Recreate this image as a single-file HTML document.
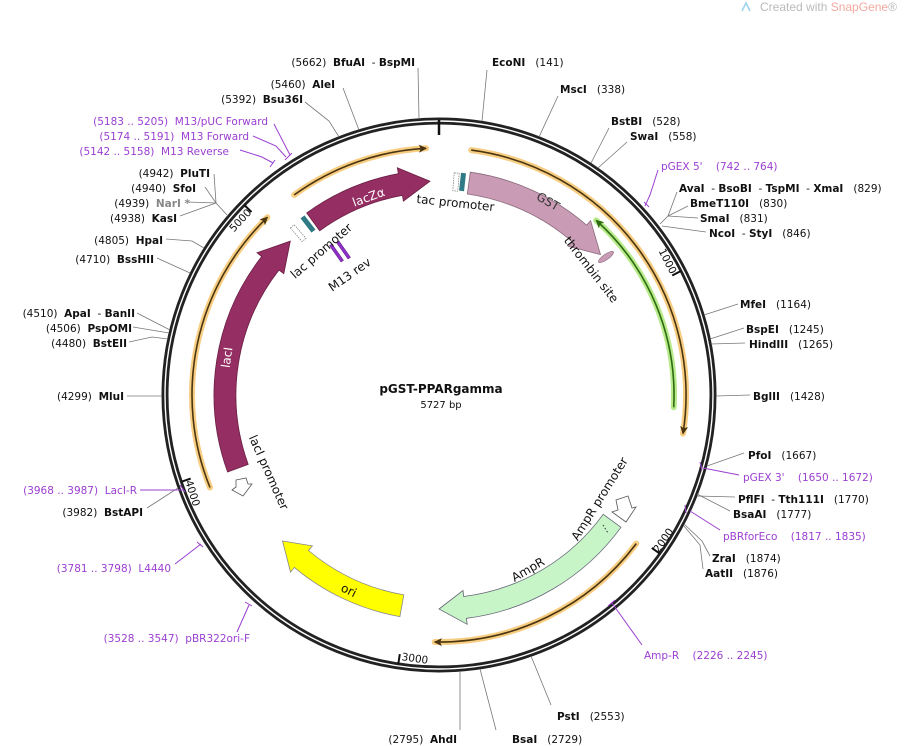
<!DOCTYPE html>
<html><head><meta charset="utf-8"><style>
html,body{margin:0;padding:0;background:#fff;}
svg{display:block;}
text{font-family:"DejaVu Sans","Liberation Sans",sans-serif;font-size:10.5px;fill:#111;white-space:pre;}
.b{font-weight:bold;}
.p{fill:#9b3fd0;}
.g{fill:#888;}
.ln{stroke:#777;stroke-width:0.8;fill:none;}
.pl{stroke:#9b3fd0;stroke-width:1;fill:none;}
</style></head><body>
<svg width="911" height="746" viewBox="0 0 911 746" xmlns="http://www.w3.org/2000/svg" xml:space="preserve">
<defs>
<marker id="ao" viewBox="0 0 10 10" refX="8" refY="5" markerWidth="9" markerHeight="9" orient="auto" markerUnits="userSpaceOnUse"><path d="M0,0.5 L9,5 L0,9.5 L2,5 Z" fill="#4a3510"/></marker>
<marker id="ag" viewBox="0 0 10 10" refX="8" refY="5" markerWidth="9" markerHeight="9" orient="auto" markerUnits="userSpaceOnUse"><path d="M0,0.5 L9,5 L0,9.5 L2,5 Z" fill="#2d6a10"/></marker>
</defs>

<path d="M742,11 L746,3 L750,11" fill="none" stroke="#9fd3ee" stroke-width="1.6"/>
<text x="760" y="11" style="font-size:12px;fill:#bbb;font-family:'Liberation Sans',sans-serif">Created with <tspan style="fill:#f2a9a0">SnapGene</tspan>®</text>

<circle cx="439" cy="395" r="274" fill="none" stroke="#222" stroke-width="7"/>
<circle cx="439" cy="395" r="274" fill="none" stroke="#fff" stroke-width="1.4"/>

<g stroke="#111" stroke-width="2">
<line x1="439" y1="120" x2="439" y2="135" stroke-width="2.5"/>
<line x1="681.1" y1="270.9" x2="672.2" y2="275.5"/>
<line x1="659.9" y1="553.7" x2="651.8" y2="547.9"/>
<line x1="398.3" y1="664" x2="399.8" y2="654.1"/>
<line x1="181.2" y1="481.8" x2="190.7" y2="478.6"/>
<line x1="244.3" y1="205" x2="251.5" y2="212"/>
</g>
<text transform="translate(668,261) rotate(63)" text-anchor="middle" dy="4">1000</text>
<text transform="translate(663,540) rotate(-55)" text-anchor="middle" dy="4">2000</text>
<text transform="translate(415,658) rotate(8)" text-anchor="middle" dy="4">3000</text>
<text transform="translate(193,493) rotate(72)" text-anchor="middle" dy="4">4000</text>
<text transform="translate(240,220) rotate(-47)" text-anchor="middle" dy="4">5000</text>

<g fill="none" stroke="#f6c46c" stroke-width="6" stroke-opacity="0.85" stroke-linecap="round">
<path d="M294.2,194.9 A247,247 0 0 1 426.1,148.3"/>
<path d="M471.2,150.1 A247,247 0 0 1 683,433.6"/>
<path d="M636.3,543.6 A247,247 0 0 1 434.7,642"/>
<path d="M210,487.5 A247,247 0 0 1 267.4,217.3"/>
</g>
<g fill="none" stroke="#4a3510" stroke-width="1.6">
<path d="M294.2,194.9 A247,247 0 0 1 426.1,148.3" marker-end="url(#ao)"/>
<path d="M471.2,150.1 A247,247 0 0 1 683,433.6" marker-end="url(#ao)"/>
<path d="M636.3,543.6 A247,247 0 0 1 434.7,642" marker-end="url(#ao)"/>
<path d="M210,487.5 A247,247 0 0 1 267.4,217.3" marker-end="url(#ao)"/>
</g>
<path d="M673.7,407.3 A235,235 0 0 0 596.2,220.4" fill="none" stroke="#b8ea8c" stroke-width="6" stroke-linecap="round"/>
<path d="M673.7,407.3 A235,235 0 0 0 596.2,220.4" fill="none" stroke="#2d6a10" stroke-width="1.6" marker-end="url(#ag)"/>

<path d="M227.6,472 A225,225 0 0 1 261.7,256.5 L257,252.8 L290.3,241.1 L283.8,273.7 L279,270 A203,203 0 0 0 248.2,464.4 Z" fill="#952e62" stroke="#6a1e44" stroke-width="0.8"/>
<path d="M306.7,213 A225,225 0 0 1 398.4,173.7 L397.3,167.8 L430,181.2 L403.4,201.2 L402.4,195.3 A203,203 0 0 0 319.7,230.8 Z" fill="#952e62" stroke="#6a1e44" stroke-width="0.8"/>
<path d="M470.3,172.2 A225,225 0 0 1 586.6,225.2 L590.6,220.7 L600.5,254.6 L568.3,246.3 L572.2,241.8 A203,203 0 0 0 467.3,194 Z" fill="#c99bb5" stroke="#8a6a7c" stroke-width="0.8"/>
<path d="M621,527.3 A225,225 0 0 1 466.4,618.3 L467.2,624.3 L439,609 L463,590.5 L463.7,596.5 A203,203 0 0 0 603.2,514.3 Z" fill="#c8f5c8" stroke="#667" stroke-width="0.8"/>
<path d="M399.9,616.6 A225,225 0 0 1 294.4,567.4 L290.5,572 L282.5,541 L312.4,545.9 L308.5,550.5 A203,203 0 0 0 403.8,594.9 Z" fill="#ffff00" stroke="#888" stroke-width="0.8"/>
<line x1="603" y1="525" x2="608" y2="533" stroke="#333" stroke-width="1" stroke-dasharray="1.5,2"/>

<rect x="305.5" y="215" width="5" height="18" fill="#2f7a84" transform="rotate(322.5 308 224)"/>
<rect x="296" y="224" width="5" height="18" fill="#fff" stroke="#777" stroke-width="0.7" stroke-dasharray="1.5,1" transform="rotate(319 298.6 233.5)"/>
<rect x="460" y="173" width="5" height="18" fill="#2f7a84" transform="rotate(6.3 462.5 182.3)"/>
<rect x="453.5" y="173" width="5" height="18" fill="#fff" stroke="#777" stroke-width="0.7" stroke-dasharray="1.5,1" transform="rotate(4.5 455.8 181.7)"/>
<ellipse cx="606" cy="257" rx="9" ry="2.8" fill="#c99bb5" stroke="#8a6a7c" stroke-width="0.6" transform="rotate(-35 606 257)"/>
<rect x="335" y="243" width="3" height="20" fill="#8e2fc9" stroke="#5a1a80" stroke-width="0.5" transform="rotate(-35 336.5 253)"/>
<rect x="342" y="240" width="3" height="20" fill="#8e2fc9" stroke="#5a1a80" stroke-width="0.5" transform="rotate(-35 343.5 250)"/>
<polygon points="236,480 246,478 248,484 252,484 243,496 232,490 236,487" fill="#fff" stroke="#555" stroke-width="0.8"/>
<polygon points="616,500 628,496 632,508 636,507 626,522 612,512 618,510" fill="#fff" stroke="#555" stroke-width="0.8"/>

<text transform="translate(370,201) rotate(-20)" text-anchor="middle" style="fill:#fff;font-size:12px">lacZα</text>
<text transform="translate(231,358) rotate(-82)" text-anchor="middle" style="fill:#fff;font-size:12px">lacI</text>
<text transform="translate(546,205) rotate(30)" text-anchor="middle" style="font-size:12px;fill:#333">GST</text>
<text transform="translate(530,573) rotate(-30)" text-anchor="middle" style="font-size:12px">AmpR</text>
<text transform="translate(347,594) rotate(26)" text-anchor="middle" style="font-size:12px">ori</text>
<text transform="translate(455,207) rotate(6)" text-anchor="middle" style="font-size:12px">tac promoter</text>
<text transform="translate(324,254) rotate(-41)" text-anchor="middle" style="font-size:12px">lac promoter</text>
<text transform="translate(352,278) rotate(-35)" text-anchor="middle" style="font-size:12px">M13 rev</text>
<text transform="translate(588,272) rotate(52)" text-anchor="middle" style="font-size:12px">thrombin site</text>
<text transform="translate(265,474) rotate(66)" text-anchor="middle" style="font-size:12px">lacI promoter</text>
<text transform="translate(603,501) rotate(-58)" text-anchor="middle" style="font-size:12px">AmpR promoter</text>

<text x="441" y="393" text-anchor="middle" class="b" style="font-size:12px">pGST-PPARgamma</text>
<text x="441" y="408" text-anchor="middle" style="font-size:10px">5727 bp</text>

<g class="ln">
<path d="M482,121 L487,70"/>
<path d="M539,137 L558,96"/>
<path d="M591,163 L609,128"/>
<path d="M598,168 L627,142"/>
<path d="M660,224 L668,216 L677,192 M668,216 L688,206 M668,216 L698,218 M662,226 L706,232"/>
<path d="M704,315 L738,304"/>
<path d="M710,339 L744,328"/>
<path d="M711,344 L745,343"/>
<path d="M716,396 L750,395"/>
<path d="M707,466 L744,453"/>
<path d="M697,496 L735,497"/>
<path d="M697,494 L730,511"/>
<path d="M684,524 L702,541 L710,556"/>
<path d="M684,526 L700,545 L703,569"/>
<path d="M531,656 L551,705"/>
<path d="M480,669 L496,730"/>
<path d="M460,671 L460,730"/>
<path d="M178,488 L147,508"/>
<path d="M162,396 L127,396"/>
<path d="M170,330 L137,313"/>
<path d="M169,333 L133,327"/>
<path d="M168,339 L152,337 L129,342"/>
<path d="M190,273 L157,258"/>
<path d="M204,248 L192,241 L166,239"/>
<path d="M227,215 L216,203 L180,216"/>
<path d="M216,203 L187,202"/>
<path d="M216,203 L205,187"/>
<path d="M216,203 L214,174"/>
<path d="M339,137 L329,121 L305,102"/>
<path d="M359,130 L343,88"/>
<path d="M419,119 L418,68"/>
</g>
<g class="pl">
<path d="M645,206 L650,195 L658,170"/>
<path d="M644,202 L649,207"/>
<path d="M703,468 L739,475"/>
<path d="M700,462 L702,470"/>
<path d="M690,511 L720,530"/>
<path d="M685,505 L686,513"/>
<path d="M612,603 L642,645"/>
<path d="M608,606 L615,600"/>
<path d="M183,490 L140,490"/>
<path d="M180,485 L185,492"/>
<path d="M201,544 L175,564"/>
<path d="M197,542 L203,547"/>
<path d="M249,605 L237,632"/>
<path d="M245,602 L252,606"/>
<path d="M273,163 L262,157 L240,150"/>
<path d="M270,167 L275,160"/>
<path d="M286,157 L276,146 L253,136"/>
<path d="M290,155 L274,124"/>
<path d="M285,160 L292,153"/>
</g>

<text x="492" y="66"><tspan class="b">EcoNI</tspan>   (141)</text>
<text x="560" y="93"><tspan class="b">MscI</tspan>   (338)</text>
<text x="611" y="125"><tspan class="b">BstBI</tspan>   (528)</text>
<text x="630" y="140"><tspan class="b">SwaI</tspan>   (558)</text>
<text x="661" y="170" class="p">pGEX 5'    (742 .. 764)</text>
<text x="679" y="192"><tspan class="b">AvaI</tspan>  - <tspan class="b">BsoBI</tspan>  - <tspan class="b">TspMI</tspan>  - <tspan class="b">XmaI</tspan>   (829)</text>
<text x="690" y="207"><tspan class="b">BmeT110I</tspan>   (830)</text>
<text x="700" y="222"><tspan class="b">SmaI</tspan>   (831)</text>
<text x="709" y="237"><tspan class="b">NcoI</tspan>  - <tspan class="b">StyI</tspan>   (846)</text>
<text x="740" y="308"><tspan class="b">MfeI</tspan>   (1164)</text>
<text x="746" y="333"><tspan class="b">BspEI</tspan>   (1245)</text>
<text x="749" y="348"><tspan class="b">HindIII</tspan>   (1265)</text>
<text x="753" y="400"><tspan class="b">BglII</tspan>   (1428)</text>
<text x="748" y="459"><tspan class="b">PfoI</tspan>   (1667)</text>
<text x="743" y="481" class="p">pGEX 3'    (1650 .. 1672)</text>
<text x="738" y="503"><tspan class="b">PflFI</tspan>  - <tspan class="b">Tth111I</tspan>   (1770)</text>
<text x="733" y="518"><tspan class="b">BsaAI</tspan>   (1777)</text>
<text x="723" y="540" class="p">pBRforEco    (1817 .. 1835)</text>
<text x="712" y="562"><tspan class="b">ZraI</tspan>   (1874)</text>
<text x="705" y="577"><tspan class="b">AatII</tspan>   (1876)</text>
<text x="644" y="659" class="p">Amp-R    (2226 .. 2245)</text>
<text x="557" y="720"><tspan class="b">PstI</tspan>   (2553)</text>
<text x="512" y="743"><tspan class="b">BsaI</tspan>   (2729)</text>
<text x="457" y="743" text-anchor="end">(2795)  <tspan class="b">AhdI</tspan></text>

<text x="415" y="66" text-anchor="end">(5662)  <tspan class="b">BfuAI</tspan>  - <tspan class="b">BspMI</tspan></text>
<text x="335" y="88" text-anchor="end">(5460)  <tspan class="b">AleI</tspan></text>
<text x="303" y="103" text-anchor="end">(5392)  <tspan class="b">Bsu36I</tspan></text>
<text x="268" y="125" text-anchor="end" class="p">(5183 .. 5205)  M13/pUC Forward</text>
<text x="249" y="140" text-anchor="end" class="p">(5174 .. 5191)  M13 Forward</text>
<text x="229" y="155" text-anchor="end" class="p">(5142 .. 5158)  M13 Reverse</text>
<text x="210" y="177" text-anchor="end">(4942)  <tspan class="b">PluTI</tspan></text>
<text x="196" y="192" text-anchor="end">(4940)  <tspan class="b">SfoI</tspan></text>
<text x="190" y="207" text-anchor="end">(4939)  <tspan class="b g">NarI *</tspan></text>
<text x="177" y="222" text-anchor="end">(4938)  <tspan class="b">KasI</tspan></text>
<text x="163" y="244" text-anchor="end">(4805)  <tspan class="b">HpaI</tspan></text>
<text x="154" y="263" text-anchor="end">(4710)  <tspan class="b">BssHII</tspan></text>
<text x="135" y="317" text-anchor="end">(4510)  <tspan class="b">ApaI</tspan>  - <tspan class="b">BanII</tspan></text>
<text x="132" y="332" text-anchor="end">(4506)  <tspan class="b">PspOMI</tspan></text>
<text x="127" y="347" text-anchor="end">(4480)  <tspan class="b">BstEII</tspan></text>
<text x="124" y="400" text-anchor="end">(4299)  <tspan class="b">MluI</tspan></text>
<text x="137" y="494" text-anchor="end" class="p">(3968 .. 3987)  LacI-R</text>
<text x="143" y="516" text-anchor="end">(3982)  <tspan class="b">BstAPI</tspan></text>
<text x="171" y="572" text-anchor="end" class="p">(3781 .. 3798)  L4440</text>
<text x="250" y="642" text-anchor="end" class="p">(3528 .. 3547)  pBR322ori-F</text>
</svg>
</body></html>
